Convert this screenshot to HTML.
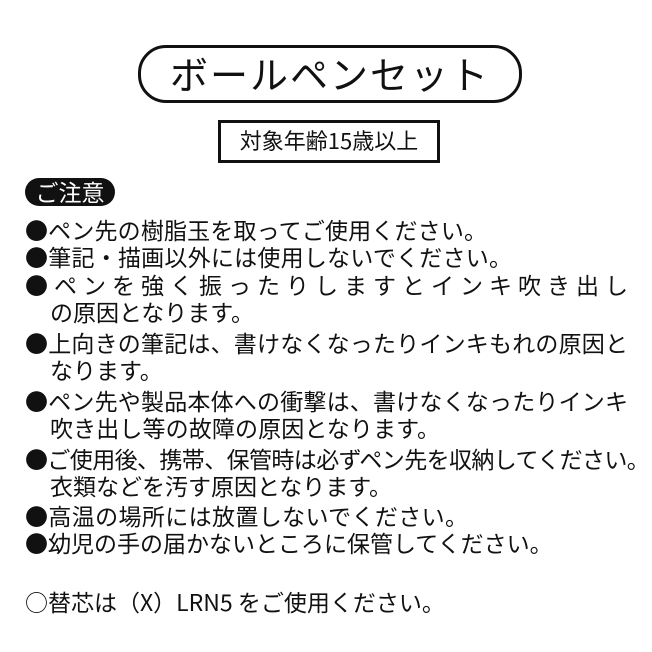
<!DOCTYPE html>
<html><head><meta charset="utf-8"><style>
html,body{margin:0;padding:0;background:#fff;}
body{width:652px;height:652px;position:relative;overflow:hidden;font-family:"Noto Sans CJK JP","Liberation Sans",sans-serif;color:#111;}
.pill{position:absolute;left:138px;top:45px;width:378px;height:52px;border:3px solid #111;border-radius:28px;text-align:center;font-size:38px;line-height:50px;letter-spacing:2px;}
.box{position:absolute;left:218px;top:120px;width:216px;height:37px;border:3px solid #111;text-align:center;font-size:22px;line-height:35px;}
.badge{position:absolute;left:25px;top:178px;width:90px;height:28px;background:#111;color:#fff;border-radius:14px;text-align:center;font-size:23px;line-height:26px;}
.l{position:absolute;font-size:23px;line-height:30px;white-space:nowrap;text-align:justify;text-align-last:justify;}
</style></head><body>
<div class="pill">ボールペンセット</div>
<div class="box">対象年齢15歳以上</div>
<div class="badge">ご注意</div>
<div class="l" style="left:25px;top:214px;width:462px">●ペン先の樹脂玉を取ってご使用ください。</div>
<div class="l" style="left:25px;top:241px;width:487px">●筆記・描画以外には使用しないでください。</div>
<div class="l" style="left:25px;top:269px;width:603px">●ペンを強く振ったりしますとインキ吹き出し</div>
<div class="l" style="left:50px;top:296px;width:195px">の原因となります。</div>
<div class="l" style="left:25px;top:327px;width:603px">●上向きの筆記は、書けなくなったりインキもれの原因と</div>
<div class="l" style="left:50px;top:354px;width:100px">なります。</div>
<div class="l" style="left:25px;top:385px;width:603px">●ペン先や製品本体への衝撃は、書けなくなったりインキ</div>
<div class="l" style="left:50px;top:412px;width:390px">吹き出し等の故障の原因となります。</div>
<div class="l" style="left:25px;top:443px;width:615px;letter-spacing:-0.6px">●ご使用後、携帯、保管時は必ずペン先を収納してください。</div>
<div class="l" style="left:50px;top:470px;width:338px">衣類などを汚す原因となります。</div>
<div class="l" style="left:25px;top:500px;width:443px">●高温の場所には放置しないでください。</div>
<div class="l" style="left:25px;top:527px;width:525px">●幼児の手の届かないところに保管してください。</div>
<div class="l" style="left:25px;top:586px;width:415px">○替芯は（X）LRN5 をご使用ください。</div>
</body></html>
